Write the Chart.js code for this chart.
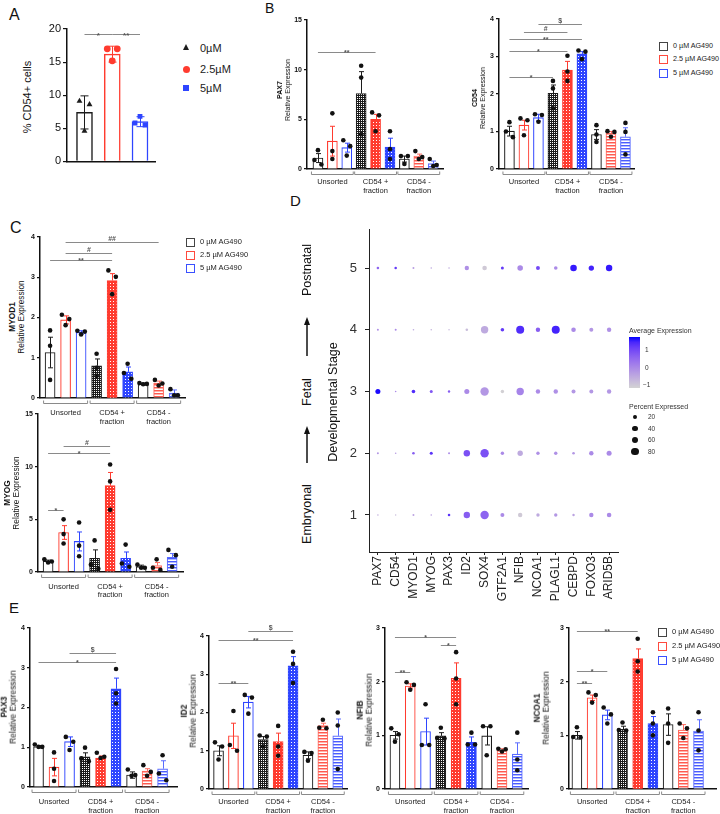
<!DOCTYPE html>
<html><head><meta charset="utf-8">
<script src="https://cdn.jsdelivr.net/npm/chart.js@4.4.1/dist/chart.umd.min.js"></script>
<style>
html,body{margin:0;padding:0;background:#fff}
#fig{position:relative;width:720px;height:814px;overflow:hidden;font-family:Arial,"Liberation Sans",Helvetica,sans-serif;color:#111}
#fig canvas{position:absolute}
.t{position:absolute;white-space:nowrap;line-height:1}
.rot{position:absolute;white-space:nowrap;text-align:center;transform:translate(-50%,-50%) rotate(-90deg)}
</style></head><body><div id="fig"></div>
<script>
// ---- data ----
const treatments = ['0 µM AG490', '2.5 µM AG490', '5 µM AG490'];
const fractions = [['Unsorted'], ['CD54 +', 'fraction'], ['CD54 -', 'fraction']];

// A
const aDoses = ['0µM', '2.5µM', '5µM'];
const aMean = [7.4, 16.2, 6.0];
const aSem = [2.5, 1.2, 0.75];
const aPts = [[9.1, 8.6, 4.6], [17.0, 17.0, 15.2], [6.8, 5.8, 5.5]];
const aSig = [[0, 1, 19.3, '*'], [1, 2, 19.3, '**']];

// B
const pax7Mean = [1.1, 2.8, 2.15, 7.6, 5.0, 2.2, 1.0, 1.3, 0.55];
const pax7Sem = [0.45, 1.5, 0.45, 2.2, 0.5, 0.9, 0.3, 0.2, 0.25];
const pax7Pts = [[1.9,0.9,0.45],[5.6,1.8,1.0],[2.9,2.3,1.35],[10.4,9.2,3.5],[5.7,5.4,3.8],[3.8,2.0,1.0],[1.3,1.3,0.5],[1.8,1.2,1.0],[1.0,0.4,0.3]];
const pax7Sig = [[0, 4, 11.8, '**']];

const cd54Mean = [1.01, 1.17, 1.37, 2.02, 2.64, 3.07, 0.92, 0.95, 0.86];
const cd54Sem = [0.13, 0.13, 0.09, 0.22, 0.23, 0.06, 0.13, 0.05, 0.24];
const cd54Pts = [[1.25,1.0,0.85],[1.35,1.3,0.9],[1.46,1.44,1.26],[2.35,2.15,1.62],[3.02,2.6,2.35],[3.16,3.13,2.93],[1.17,0.92,0.72],[1.01,0.99,0.86],[1.23,0.99,0.39]];
const cd54Sig = [[2,5,3.87,'$'],[1,4,3.65,'#'],[0,5,3.47,'**'],[0,4,3.15,'*'],[0,3,2.45,'*']];

// C
const myod1Mean = [1.13, 1.94, 1.63, 0.8, 2.92, 0.65, 0.35, 0.37, 0.12];
const myod1Sem = [0.38, 0.1, 0.04, 0.17, 0.17, 0.12, 0.02, 0.05, 0.08];
const myod1Pts = [[1.68,1.3,0.45],[2.07,1.96,1.81],[1.67,1.65,1.58],[1.1,0.75,0.55],[3.17,3.01,2.58],[0.85,0.62,0.48],[0.37,0.35,0.34],[0.45,0.36,0.31],[0.22,0.07,0.07]];
const myod1Sig = [[1,7,3.88,'##'],[1,4,3.6,'#'],[0,4,3.43,'**']];

const myogMean = [1.03, 3.75, 2.9, 1.3, 8.2, 1.3, 0.5, 0.6, 1.4];
const myogSem = [0.1, 0.65, 0.9, 0.8, 1.25, 0.6, 0.15, 0.3, 0.35];
const myogPts = [[1.2,1.0,0.9],[5.0,3.6,2.7],[4.7,2.5,1.5],[3.0,0.7,0.3],[10.2,8.6,5.9],[2.6,0.8,0.5],[0.7,0.4,0.4],[1.2,0.4,0.2],[2.1,1.6,0.5]];
const myogSig = [[1,4,12.0,'#'],[0,4,11.3,'*'],[0,1,5.9,'*']];

// E
const pax3Mean = [1.01, 0.5, 1.14, 0.76, 0.73, 2.47, 0.3, 0.4, 0.46];
const pax3Sem = [0.03, 0.22, 0.12, 0.1, 0.05, 0.27, 0.08, 0.06, 0.2];
const pax3Pts = [[1.07,1.01,1.01],[0.87,0.46,0.15],[1.26,1.14,0.93],[0.99,0.72,0.65],[0.86,0.76,0.73],[2.97,2.36,2.1],[0.44,0.3,0.28],[0.55,0.38,0.28],[0.8,0.34,0.17]];
const pax3Sig = [[2,5,3.37,'$'],[0,5,3.15,'*']];

const id2Mean = [1.0, 1.39, 2.27, 1.29, 1.24, 3.22, 0.88, 1.66, 1.39];
const id2Sem = [0.13, 0.33, 0.15, 0.08, 0.22, 0.24, 0.09, 0.06, 0.44];
const id2Pts = [[1.22,1.11,0.77],[2.04,1.15,1.0],[2.46,2.39,1.97],[1.4,1.37,1.11],[1.65,1.11,0.87],[3.59,3.27,2.77],[0.97,0.94,0.74],[1.81,1.6,1.59],[2.0,1.66,0.52]];
const id2Sig = [[2,5,4.13,'$'],[0,5,3.9,'**'],[0,2,2.77,'**']];

const nfibMean = [1.0, 1.92, 1.07, 0.99, 2.06, 0.87, 0.99, 0.72, 0.65];
const nfibSem = [0.07, 0.04, 0.25, 0.06, 0.29, 0.1, 0.17, 0.03, 0.21];
const nfibPts = [[1.13,1.02,0.88],[1.99,1.94,1.85],[1.58,0.82,0.82],[1.14,0.95,0.94],[2.55,2.06,1.58],[1.05,0.83,0.83],[1.17,1.17,0.63],[0.75,0.74,0.7],[1.05,0.55,0.35]];
const nfibSig = [[0,4,2.83,'*'],[3,4,2.68,'*'],[0,1,2.18,'**']];

const ncoa1Mean = [1.0, 1.7, 1.38, 1.11, 2.43, 1.22, 1.2, 1.1, 1.08];
const ncoa1Sem = [0.07, 0.05, 0.09, 0.06, 0.18, 0.13, 0.2, 0.1, 0.21];
const ncoa1Pts = [[1.15,0.97,0.96],[1.8,1.75,1.61],[1.52,1.39,1.22],[1.24,1.1,1.09],[2.8,2.38,2.19],[1.43,1.22,1.0],[1.5,1.22,0.86],[1.22,1.13,0.95],[1.43,1.09,0.72]];
const ncoa1Sig = [[0,4,2.94,'**'],[0,2,2.2,'*'],[0,1,1.97,'**']];

// D (rows = stages 5..1)
const dpGenes = ['PAX7','CD54','MYOD1','MYOG','PAX3','ID2','SOX4','GTF2A1','NFIB','NCOA1','PLAGL1','CEBPD','FOXO3','ARID5B'];
const dpStages = [5, 4, 3, 2, 1];
const dpPct = [
  [9, 9, 5.5, 3.5, 3.5, 27, 29, 12.5, 43, 22, 18, 60, 40, 57],
  [5.5, 5.5, 3.5, 3.5, 2.7, 9, 76, 18, 89, 27, 89, 29, 22, 27],
  [35, 3.5, 18, 12.5, 8, 35, 98, 16, 76, 27, 27, 22, 22, 27],
  [5.5, 3.5, 9, 12.5, 5.5, 57, 98, 16, 40, 16, 16, 9, 27, 35],
  [3.5, 2.7, 5.5, 3.5, 9, 57, 98, 22, 27, 16, 16, 8, 27, 29]
];
const dpAvg = [
  [0.6, 1.2, -0.3, -0.5, -0.5, -0.1, -1.0, 1.2, 0.0, 1.0, 0.0, 1.6, 1.5, 1.6],
  [-0.1, 0.0, -0.5, -0.7, -0.7, -0.8, -0.5, 1.2, 1.4, 0.7, 1.5, 0.0, -0.2, -0.1],
  [1.7, 0.0, 1.4, 0.8, 0.7, 0.0, -0.2, -1.1, 0.1, 0.0, -0.1, -0.2, -0.2, -0.2],
  [-0.2, -0.3, 0.7, 1.3, 0.0, 0.9, 0.9, 0.0, -0.5, -0.1, -0.1, -0.2, 0.0, 0.0],
  [-0.6, -0.8, -0.4, -0.4, 1.3, 0.7, 0.6, 0.0, -1.0, -0.5, -0.2, -0.4, 0.0, 0.0]
];
const dpPctLegend = [20, 40, 60, 80];
const dpExpTicks = [1, 0, -1];

// ---- helpers ----
Chart.defaults.font.family = 'Arial, "Liberation Sans", Helvetica, sans-serif';
Chart.defaults.color = '#111';
const fig = document.getElementById('fig');
const C0 = '#1c1c1c', C1 = '#ff3b2f', C2 = '#2e45ff';
const legendBorder = ['#444', '#ff4a3e', '#3a50ff'];

function txt(x, y, html, style) {
  const d = document.createElement('div'); d.className = 't'; d.innerHTML = html;
  d.style.left = x + 'px'; d.style.top = y + 'px'; d.style.transform = 'translateY(-50%)';
  Object.assign(d.style, style || {}); fig.appendChild(d); return d;
}
function rot(x, y, html, style) {
  const d = document.createElement('div'); d.className = 'rot'; d.innerHTML = html;
  d.style.left = x + 'px'; d.style.top = y + 'px';
  Object.assign(d.style, style || {}); fig.appendChild(d); return d;
}
function dotFill(col, tile) {
  const c = document.createElement('canvas'); c.width = tile; c.height = tile;
  const g = c.getContext('2d'); g.fillStyle = col; g.fillRect(0, 0, tile, tile);
  g.fillStyle = '#fff'; g.fillRect(tile === 2 ? 0 : 1, tile === 2 ? 0 : 1, 1, 1);
  return g.createPattern(c, 'repeat');
}
function stripeFill(col, light) {
  const c = document.createElement('canvas'); c.width = 2; c.height = 3;
  const g = c.getContext('2d');
  g.fillStyle = col; g.fillRect(0, 0, 2, 1);
  g.fillStyle = light; g.fillRect(0, 1, 2, 1);
  g.fillStyle = '#fff'; g.fillRect(0, 2, 2, 1);
  return g.createPattern(c, 'repeat');
}
const barFills = ['#fff', '#fff', '#fff',
  dotFill(C0, 2), dotFill(C1, 3), dotFill(C2, 3),
  '#fff', stripeFill('#ff5a4f', '#ffb0aa'), stripeFill('#4a5cff', '#b0b8ff')];
const barBorders = [C0, C1, C2, C0, C1, C2, C0, '#ff6a5e', '#5a6cff'];

function spread(vals, thr) {
  const off = vals.map(() => 0);
  const idx = vals.map((v, i) => i).sort((a, b) => vals[b] - vals[a]);
  for (let k = 1; k < idx.length; k++) {
    const a = idx[k - 1], b = idx[k];
    if (Math.abs(vals[a] - vals[b]) < thr && off[a] === 0) { off[a] = -1; off[b] = 1; }
  }
  return off;
}
// keep the axis range exactly as given (no rounding to nice ticks)
function fixRange(lo, hi) { return s => { s.min = lo; s.max = hi; }; }

function barPanel(o) {
  const [cx, cy, cw, ch] = o.box, [pl, pt, pr, pb] = o.plot;
  const cv = document.createElement('canvas'); cv.width = cw; cv.height = ch;
  cv.style.left = cx + 'px'; cv.style.top = cy + 'px'; fig.appendChild(cv);
  const fills = o.fills || barFills, borders = o.borders || barBorders;
  const barW = o.barW || 10, cap = o.cap || 2.5;
  const dots = [];
  o.pts.forEach((arr, i) => {
    const off = spread(arr, o.ymax * 0.045);
    arr.forEach((v, j) => dots.push({ x: i + off[j] * (o.dx || 0.24), y: v, k: i }));
  });
  const extras = {
    id: 'extras',
    afterDatasetDraw(chart, args) {
      if (args.index !== 0) return;
      const xs = chart.scales.x, ys = chart.scales.y, g = chart.ctx;
      g.save(); g.lineWidth = 1;
      o.mean.forEach((m, i) => {
        const x = Math.round(xs.getPixelForValue(i)) + 0.5;
        const yt = ys.getPixelForValue(m + o.sem[i]);
        const open = fills[i] === '#fff';
        const yb = ys.getPixelForValue(open ? Math.max(0, m - o.sem[i]) : m);
        g.strokeStyle = borders[i]; g.beginPath();
        g.moveTo(x, yb); g.lineTo(x, yt);
        g.moveTo(x - cap, yt); g.lineTo(x + cap, yt);
        if (open) { g.moveTo(x - cap, yb); g.lineTo(x + cap, yb); }
        g.stroke();
      });
      g.restore();
    },
    afterDraw(chart) {
      const xs = chart.scales.x, ys = chart.scales.y, g = chart.ctx, ca = chart.chartArea;
      g.save();
      (o.sig || []).forEach(([a, b, v, lab]) => {
        const x1 = xs.getPixelForValue(a), x2 = xs.getPixelForValue(b);
        const y = Math.round(ys.getPixelForValue(v)) + 0.5;
        g.strokeStyle = '#8a8a8a'; g.lineWidth = 1;
        g.beginPath(); g.moveTo(x1, y); g.lineTo(x2, y); g.stroke();
        g.fillStyle = '#555'; g.font = o.sigFont || 'bold 7px Arial';
        g.textAlign = 'center'; g.textBaseline = 'alphabetic';
        g.fillText(lab, (x1 + x2) / 2, lab.includes('*') ? y + (o.starDy || 2.5) : y - 1.5);
      });
      if (o.groups) {
        fractions.forEach((lines, gi) => {
          const xa = xs.getPixelForValue(gi * 3) - barW / 2 - 1.5;
          const xb = xs.getPixelForValue(gi * 3 + 2) + barW / 2 + 1.5;
          const y = Math.round(ca.bottom + 5) + 0.5;
          g.strokeStyle = '#8a8a8a'; g.lineWidth = 1;
          g.beginPath(); g.moveTo(xa, y - 3); g.lineTo(xa, y); g.lineTo(xb, y); g.lineTo(xb, y - 3); g.stroke();
          g.fillStyle = '#222'; g.font = '7.5px Arial'; g.textAlign = 'center'; g.textBaseline = 'middle';
          lines.forEach((s, li) => g.fillText(s, (xa + xb) / 2, ca.bottom + o.lab[li]));
        });
      }
      g.restore();
    }
  };
  new Chart(cv, {
    type: 'bar',
    data: { datasets: [
      { type: 'bar', data: o.mean.map((v, i) => ({ x: i, y: v })), backgroundColor: fills,
        borderColor: borders, borderWidth: o.bw || 1.1, barThickness: barW },
      { type: 'scatter', data: dots, order: -1,
        pointRadius: o.dotR || 2.3,
        pointStyle: o.styles ? (c => o.styles[c.raw.k]) : 'circle',
        backgroundColor: o.dotColors ? (c => o.dotColors[c.raw.k]) : '#111', borderWidth: 0 }
    ] },
    options: {
      responsive: false, animation: false, events: [],
      layout: { padding: { left: 0, right: cx + cw - pr, top: pt - cy, bottom: 0 } },
      plugins: { legend: { display: false }, tooltip: { enabled: false } },
      scales: {
        x: { type: 'linear', bounds: 'data', offset: false, min: o.xmin, max: o.xmax,
             ticks: { display: false }, grid: { display: false },
             border: { color: '#111', width: 1.5 },
             afterBuildTicks: fixRange(o.xmin, o.xmax),
             afterFit(s) { s.height = cy + ch - pb; } },
        y: { type: 'linear', min: 0, max: o.ymax,
             ticks: { stepSize: o.step, font: o.tickFont || { size: 7, weight: 'bold' }, color: '#111', padding: o.tickPad || 2 },
             grid: { drawOnChartArea: false, tickLength: o.tickLen || 3, color: '#111', lineWidth: 1.2 },
             border: { color: '#111', width: 1.5 }, afterFit(s) { s.width = pl - cx; } }
      }
    },
    plugins: [extras]
  });
}

function boxLegend(x, ys, fs) {
  treatments.forEach((t, i) => {
    const b = document.createElement('div');
    Object.assign(b.style, { position: 'absolute', left: x + 'px', top: Math.round(ys[i] - 4.5) + 'px', width: '9px', height: '9px',
      boxSizing: 'border-box', border: '1px solid ' + legendBorder[i], background: '#fff' });
    fig.appendChild(b);
    txt(x + 14, ys[i], t, { fontSize: fs + 'px', color: '#222' });
  });
}
function yTitle(x, y, gene, size) {
  rot(x, y, '<b>' + gene + '</b><br>Relative Expression', { fontSize: size + 'px', lineHeight: (size + 1) + 'px', color: '#111' });
}

// ---- panel letters ----
txt(9, 15, 'A', { fontSize: '16px' });
txt(265, 8, 'B', { fontSize: '14px' });
txt(10, 228, 'C', { fontSize: '16px' });
txt(290, 200, 'D', { fontSize: '15px' });
txt(9, 607, 'E', { fontSize: '15px' });

// ---- A ----
barPanel({ box: [40, 18, 125, 152], plot: [67, 29, 155, 166], xmin: -0.63, xmax: 2.54, ymax: 20, step: 5,
  mean: aMean, sem: aSem, pts: aPts, sig: aSig, fills: ['#fff', '#fff', '#fff'], borders: [C0, C1, C2],
  barW: 16, bw: 1.5, cap: 4, dx: 0.18, dotR: 3.4, styles: ['triangle', 'circle', 'rect'], dotColors: [C0, C1, C2],
  tickFont: { size: 11 }, tickLen: 4, tickPad: 2, sigFont: 'bold 8px Arial', starDy: 3 });
rot(27, 97, '% CD54+ cells', { fontSize: '11px' });
aDoses.forEach((d, i) => {
  const y = [48, 69, 88][i];
  const m = document.createElement('div');
  if (i === 0) Object.assign(m.style, { position: 'absolute', left: '183px', top: (y - 4) + 'px', width: 0, height: 0,
    borderLeft: '3.5px solid transparent', borderRight: '3.5px solid transparent', borderBottom: '6px solid ' + C0 });
  if (i === 1) Object.assign(m.style, { position: 'absolute', left: '183px', top: (y - 3.5) + 'px', width: '7px', height: '7px', borderRadius: '50%', background: C1 });
  if (i === 2) Object.assign(m.style, { position: 'absolute', left: '183px', top: (y - 3) + 'px', width: '6px', height: '6px', background: C2 });
  fig.appendChild(m);
  txt(200, y, d, { fontSize: '11px', color: '#222' });
});

// ---- B ----
barPanel({ box: [285, 10, 165, 190], plot: [307, 20, 443, 169], xmin: -0.76, xmax: 8.68, ymax: 15, step: 5,
  mean: pax7Mean, sem: pax7Sem, pts: pax7Pts, sig: pax7Sig, groups: true, lab: [13, 22] });
yTitle(284, 90, 'PAX7', 7);
barPanel({ box: [478, 10, 162, 190], plot: [499, 19, 634, 169], xmin: -0.72, xmax: 8.59, ymax: 4, step: 1,
  mean: cd54Mean, sem: cd54Sem, pts: cd54Pts, sig: cd54Sig, groups: true, lab: [13, 22] });
yTitle(479, 98, 'CD54', 7);
boxLegend(659, [46, 59, 73], 7.2);

// ---- C ----
barPanel({ box: [28, 225, 162, 202], plot: [40, 237, 185, 398], xmin: -0.65, xmax: 8.7, ymax: 4, step: 1,
  mean: myod1Mean, sem: myod1Sem, pts: myod1Pts, sig: myod1Sig, groups: true, lab: [15, 24] });
yTitle(17, 317, 'MYOD1', 8.3);
boxLegend(186, [242, 255, 268], 7.5);
barPanel({ box: [22, 405, 165, 197], plot: [38, 414, 183, 572], xmin: -0.65, xmax: 8.7, ymax: 15, step: 5,
  mean: myogMean, sem: myogSem, pts: myogPts, sig: myogSig, groups: true, lab: [15, 23] });
yTitle(12, 493, 'MYOG', 8.3);

// ---- E ----
barPanel({ box: [18, 618, 165, 196], plot: [30, 628, 177, 787], xmin: -0.55, xmax: 8.93, ymax: 4, step: 1,
  mean: pax3Mean, sem: pax3Sem, pts: pax3Pts, sig: pax3Sig, groups: true, lab: [15, 24] });
yTitle(9, 707, 'PAX3', 8.3);
barPanel({ box: [197, 618, 155, 196], plot: [209, 636, 347, 789], xmin: -0.64, xmax: 8.62, ymax: 4, step: 1,
  mean: id2Mean, sem: id2Sem, pts: id2Pts, sig: id2Sig, groups: true, lab: [13, 22] });
yTitle(189, 711, 'ID2', 8.3);
barPanel({ box: [373, 618, 160, 196], plot: [385, 628, 528, 789], xmin: -0.65, xmax: 8.7, ymax: 3, step: 1,
  mean: nfibMean, sem: nfibSem, pts: nfibPts, sig: nfibSig, groups: true, lab: [13, 22] });
yTitle(365, 710, 'NFIB', 8.3);
barPanel({ box: [557, 618, 163, 196], plot: [569, 628, 718, 789], xmin: -0.52, xmax: 9.15, ymax: 3, step: 1,
  mean: ncoa1Mean, sem: ncoa1Sem, pts: ncoa1Pts, sig: ncoa1Sig, groups: true, lab: [13, 22] });
yTitle(542, 708, 'NCOA1', 8.3);
boxLegend(658, [632, 646, 660], 7.5);

// ---- D: dot plot ----
const expLo = -1.15, expHi = 1.75;
function lin(c) { c /= 255; return c <= 0.04045 ? c / 12.92 : Math.pow((c + 0.055) / 1.055, 2.4); }
function unlin(c) { c = c <= 0.0031308 ? 12.92 * c : 1.055 * Math.pow(c, 1 / 2.4) - 0.055; return Math.round(Math.max(0, Math.min(1, c)) * 255); }
function toLab([r, g, b]) {
  r = lin(r); g = lin(g); b = lin(b);
  const X = (0.4124 * r + 0.3576 * g + 0.1805 * b) / 0.95047, Y = 0.2126 * r + 0.7152 * g + 0.0722 * b, Z = (0.0193 * r + 0.1192 * g + 0.9505 * b) / 1.08883;
  const f = t => t > 0.008856 ? Math.cbrt(t) : 7.787 * t + 16 / 116;
  return [116 * f(Y) - 16, 500 * (f(X) - f(Y)), 200 * (f(Y) - f(Z))];
}
function fromLab([L, a, b]) {
  const fy = (L + 16) / 116, fx = fy + a / 500, fz = fy - b / 200;
  const fi = t => t * t * t > 0.008856 ? t * t * t : (t - 16 / 116) / 7.787;
  const X = fi(fx) * 0.95047, Y = fi(fy), Z = fi(fz) * 1.08883;
  return `rgb(${unlin(3.2406 * X - 1.5372 * Y - 0.4986 * Z)},${unlin(-0.9689 * X + 1.8758 * Y + 0.0415 * Z)},${unlin(0.0557 * X - 0.2040 * Y + 1.0570 * Z)})`;
}
const labLo = toLab([211, 211, 211]), labHi = toLab([0, 0, 255]);
function expColor(v) {
  const t = Math.max(0, Math.min(1, (v - expLo) / (expHi - expLo)));
  return fromLab(labLo.map((c, i) => c + (labHi[i] - c) * t));
}
function pctRadius(p) { return Math.max(0.7, 4.25 * Math.sqrt(p / 100)); }

const dpData = [];
dpStages.forEach((s, r) => dpGenes.forEach((g, c) => dpData.push({ x: g, y: s, pct: dpPct[r][c], avg: dpAvg[r][c] })));
(function () {
  // the y axis adds ~7px of label padding at the top, so the box starts a little higher
  const cx = 330, cy = 214, cw = 300, ch = 411, pl = 369, pt = 223, pr = 618, pb = 552;
  const cv = document.createElement('canvas'); cv.width = cw; cv.height = ch;
  cv.style.left = cx + 'px'; cv.style.top = cy + 'px'; fig.appendChild(cv);
  new Chart(cv, {
    type: 'scatter',
    data: { datasets: [{ data: dpData, pointRadius: c => pctRadius(c.raw.pct), backgroundColor: c => expColor(c.raw.avg), borderWidth: 0 }] },
    options: {
      responsive: false, animation: false, events: [],
      layout: { padding: { left: 0, top: pt - cy, right: cx + cw - pr, bottom: 0 } },
      plugins: { legend: { display: false }, tooltip: { enabled: false } },
      scales: {
        x: { type: 'category', labels: dpGenes, offset: true,
             ticks: { autoSkip: false, minRotation: 90, maxRotation: 90, font: { size: 12 }, color: '#222', padding: 1 },
             grid: { drawOnChartArea: false, tickLength: 3, color: '#222' }, border: { color: '#222', width: 1 },
             afterFit(s) { s.height = cy + ch - pb; } },
        y: { type: 'linear', min: 0.4, max: 5.62,
             ticks: { stepSize: 1, includeBounds: false, font: { size: 13 }, color: '#333', padding: 8, callback: v => Number.isInteger(v) ? v : '' },
             grid: { drawOnChartArea: false, tickLength: 4, color: '#222' }, border: { color: '#222', width: 1 },
             afterBuildTicks(s) { s.ticks = s.ticks.filter(t => Number.isInteger(t.value)); s.min = 0.4; s.max = 5.62; },
             afterFit(s) { s.width = pl - cx; } }
      }
    }
  });
})();
rot(307, 270, 'Postnatal', { fontSize: '12.5px' });
rot(307, 392, 'Fetal', { fontSize: '12.5px' });
rot(307, 514, 'Embryonal', { fontSize: '12.5px' });
rot(333, 402, 'Developmental Stage', { fontSize: '12.5px' });
[[317, 356], [426, 463]].forEach(([y0, y1]) => {
  const ns = 'http://www.w3.org/2000/svg';
  const s = document.createElementNS(ns, 'svg');
  s.setAttribute('width', 12); s.setAttribute('height', y1 - y0);
  Object.assign(s.style, { position: 'absolute', left: '301px', top: y0 + 'px' });
  s.innerHTML = `<line x1="6" y1="6" x2="6" y2="${y1 - y0}" stroke="#111" stroke-width="1.5"/><polygon points="6,0 3,8 9,8" fill="#111"/>`;
  fig.appendChild(s);
});
// D legends
txt(629, 330, 'Average Expression', { fontSize: '7px', color: '#333' });
(function () {
  const stops = [];
  for (let k = 0; k <= 10; k++) { const v = expLo + (expHi - expLo) * k / 10; stops.push(expColor(v) + ' ' + (k * 10) + '%'); }
  const bar = document.createElement('div');
  Object.assign(bar.style, { position: 'absolute', left: '629px', top: '337px', width: '11px', height: '51px',
    background: 'linear-gradient(to top,' + stops.join(',') + ')' });
  fig.appendChild(bar);
  dpExpTicks.forEach(v => {
    const y = 337 + 51 * (expHi - v) / (expHi - expLo);
    txt(v < 0 ? 643 : 645, y, v < 0 ? '\u2212' + Math.abs(v) : String(v), { fontSize: '6.5px', color: '#333' });
  });
})();
txt(629, 406, 'Percent Expressed', { fontSize: '7px', color: '#333' });
dpPctLegend.forEach((p, i) => {
  const y = [417, 428.5, 440, 451.5][i], r = pctRadius(p);
  const d = document.createElement('div');
  Object.assign(d.style, { position: 'absolute', left: (635 - r) + 'px', top: (y - r) + 'px', width: 2 * r + 'px', height: 2 * r + 'px', borderRadius: '50%', background: '#111' });
  fig.appendChild(d);
  txt(648, y, String(p), { fontSize: '6.5px', color: '#333' });
});
</script></body></html>
